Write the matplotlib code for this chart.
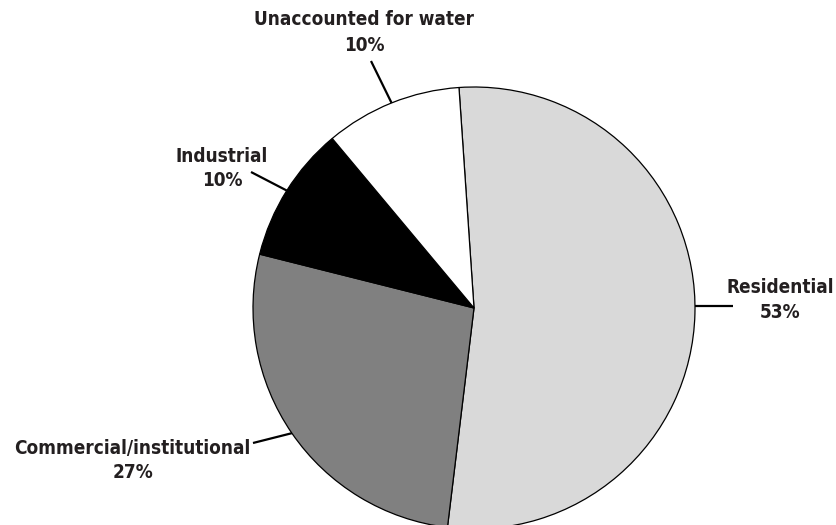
import numpy as np
import matplotlib
matplotlib.use("Agg")
import matplotlib.pyplot as plt

categories = ["Residential", "Commercial/institutional", "Industrial", "Unaccounted for water"]
values = [53, 27, 10, 10]
colors = ["#d9d9d9", "#808080", "#000000", "#ffffff"]
pct_labels = ["53%", "27%", "10%", "10%"]

W, H = 837, 525
fig = plt.figure(figsize=(W / 100, H / 100), dpi=100)
ax = fig.add_axes([0, 0, 1, 1])

cx, cy, r = 474, H - 308, 221
start = 93.9
wedges, _ = ax.pie(values, colors=colors, startangle=start, counterclock=False,
                   center=(cx, cy), radius=r, frame=True,
                   wedgeprops=dict(edgecolor="black", linewidth=0.9))
ax.set_xlim(0, W)
ax.set_ylim(0, H)
ax.set_aspect("equal")
ax.axis("off")

tc = "#231f20"
fs = 13.6

label_layout = [
    ((733, 306), (780.5, 293), (780.5, 318)),
    ((253, 443), (132.5, 454), (133, 478)),
    ((251, 172), (222, 162), (222.5, 186)),
    ((371, 61), (364.5, 25), (364.5, 51)),
]

for i, (w, name, pct, (end, npos, ppos)) in enumerate(zip(wedges, categories, pct_labels, label_layout)):
    if i == 0:
        a = np.arcsin(((H - end[1]) - cy) / r)
    else:
        a = np.deg2rad((w.theta1 + w.theta2) / 2)
    px, py = cx + r * np.cos(a), cy + r * np.sin(a)
    ax.plot([px, end[0]], [py, H - end[1]], color="black", lw=1.6, solid_capstyle="butt")
    ax.text(npos[0], H - npos[1], name, ha="center", va="baseline", fontsize=fs,
            fontweight="bold", fontstretch="condensed", family="DejaVu Sans", color=tc)
    ax.text(ppos[0], H - ppos[1], pct, ha="center", va="baseline", fontsize=fs,
            fontweight="bold", fontstretch="condensed", family="DejaVu Sans", color=tc)

fig.savefig("out.png", dpi=100)
